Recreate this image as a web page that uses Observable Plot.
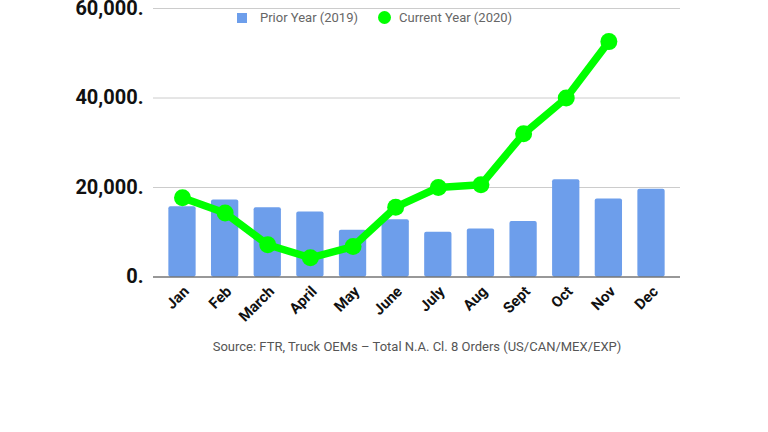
<!DOCTYPE html>
<html>
<head>
<meta charset="utf-8">
<script src="https://cdn.jsdelivr.net/npm/d3@7"></script>
<script src="https://cdn.jsdelivr.net/npm/@observablehq/plot@0.6"></script>
<style>
  html, body { margin: 0; padding: 0; background: #fff; }
  #wrap { position: relative; width: 768px; height: 432px; overflow: hidden; font-family: Roboto, "Liberation Sans", sans-serif; }
  #legend { position: absolute; top: 10px; left: 237px; display: flex; align-items: center; font-size: 13px; color: #666; }
  #legend .sw { width: 10px; height: 10px; background: #6d9eeb; margin-right: 13px; }
  #legend .dot { width: 13px; height: 13px; border-radius: 50%; background: #00ff00; margin-left: 20px; margin-right: 8px; }
  #caption { position: absolute; top: 339px; left: 0; width: 834px; text-align: center; font-size: 13px; color: #555; }
</style>
</head>
<body>
<div id="wrap">
  <div id="chart"></div>
  <div id="legend"><span class="sw"></span><span>Prior Year (2019)</span><span class="dot"></span><span>Current Year (2020)</span></div>
  <div id="caption">Source: FTR, Truck OEMs – Total N.A. Cl. 8 Orders (US/CAN/MEX/EXP)</div>
</div>
<script>
const months = ["Jan", "Feb", "March", "April", "May", "June", "July", "Aug", "Sept", "Oct", "Nov", "Dec"];
const prior2019 = [15700, 17200, 15500, 14550, 10450, 12800, 10000, 10750, 12400, 21750, 17450, 19600];
const current2020 = [17700, 14300, 7200, 4300, 6800, 15600, 20000, 20600, 32000, 40000, 52600, null];
const yTicks = [0, 20000, 40000, 60000];

const barData = months.map((m, i) => ({month: m, value: prior2019[i]}));
const lineData = months.map((m, i) => ({month: m, value: current2020[i]})).filter(d => d.value != null);

const chart = Plot.plot({
  width: 768,
  height: 432,
  marginLeft: 153,
  marginRight: 88,
  marginTop: 8,
  marginBottom: 155.5,
  style: {fontFamily: "Roboto, 'Liberation Sans', sans-serif", background: "transparent"},
  x: {domain: months, padding: 0.36, round: false, label: null},
  y: {domain: [0, 60000], label: null},
  marks: [
    Plot.axisX({tickSize: 0, tickRotate: -45, tickPadding: 11, dx: 4, dy: 1, label: null,
                fontSize: 15, fontWeight: "bold", fill: "#111"}),
    Plot.axisY({ticks: yTicks, tickSize: 0, tickPadding: 10, label: null,
                tickFormat: d => d3.format(",")(d) + ".", fontSize: 20, fontWeight: "bold", fill: "#111"}),
    Plot.ruleY(yTicks.filter(d => d > 0), {stroke: "#cccccc", strokeWidth: 1}),
    Plot.barY(barData, {x: "month", y: "value", fill: "#6d9eeb", rx: 2, insetLeft: 0, insetRight: 0}),
    Plot.ruleY([0], {stroke: "#333333", strokeWidth: 1.2}),
    Plot.line(lineData, {x: "month", y: "value", stroke: "#00ff00", strokeWidth: 7.5, curve: "linear"}),
    Plot.dot(lineData, {x: "month", y: "value", fill: "#00ff00", r: 8.5})
  ]
});
document.getElementById("chart").appendChild(chart);
</script>
</body>
</html>
